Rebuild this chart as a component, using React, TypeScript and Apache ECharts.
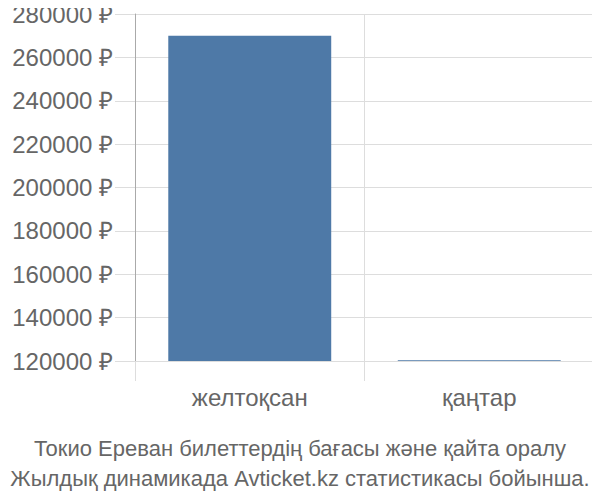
import { useEffect, useRef } from 'react';
import * as echarts from 'echarts';

const categories = ['желтоқсан', 'қаңтар'];
const prices = [270000, 120400];
const titleLines = [
  'Токио Ереван билеттердің бағасы және қайта оралу',
  'Жылдық динамикада Avticket.kz статистикасы бойынша.',
];

export default function App() {
  const chartRef = useRef<HTMLDivElement>(null);

  useEffect(() => {
    if (!chartRef.current) return;
    const chart = echarts.init(chartRef.current, null, { renderer: 'svg' });

    chart.setOption({
      animation: false,
      textStyle: { fontFamily: 'Liberation Sans, Arial, sans-serif' },
      title: {
        text: titleLines.join('\n'),
        left: 'center',
        bottom: 2,
        textStyle: {
          fontSize: 22,
          fontWeight: 'normal',
          color: '#666',
          lineHeight: 30,
        },
      },
      grid: { left: 135, right: 6, top: 14, bottom: 139 },
      xAxis: {
        type: 'category',
        data: categories,
        axisLine: { show: false },
        axisTick: { show: true, length: 20, lineStyle: { color: '#ddd' } },
        splitLine: { show: true, lineStyle: { color: '#ddd' } },
        axisLabel: { fontSize: 24, color: '#666', margin: 24 },
      },
      yAxis: {
        type: 'value',
        min: 120000,
        max: 280000,
        interval: 20000,
        axisLine: { show: true, lineStyle: { color: '#aaa' } },
        axisTick: { show: true, length: 20, lineStyle: { color: '#ddd' } },
        splitLine: { show: true, lineStyle: { color: '#ddd' } },
        axisLabel: {
          fontSize: 24,
          color: '#666',
          margin: 22,
          formatter: (v: number) => `${v} ₽`,
        },
      },
      series: [
        {
          type: 'bar',
          data: prices,
          barCategoryGap: '29%',
          itemStyle: { color: '#4e79a7' },
        },
      ],
    });

    return () => {
      chart.dispose();
    };
  }, []);

  return <div ref={chartRef} style={{ width: 600, height: 500, margin: -8 }} />;
}
